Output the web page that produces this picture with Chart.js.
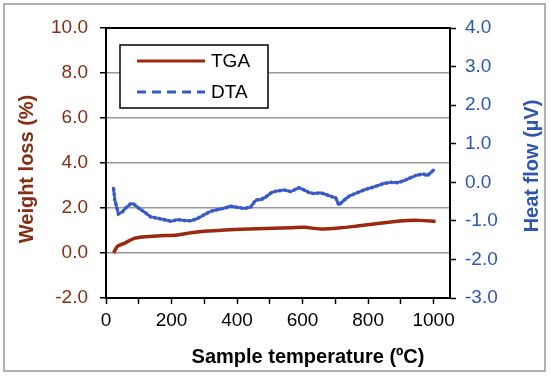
<!DOCTYPE html>
<html>
<head>
<meta charset="utf-8">
<script src="https://cdn.jsdelivr.net/npm/chart.js@4/dist/chart.umd.min.js"></script>
<style>
  body{margin:0;background:#fff;}
  canvas{display:block;}
</style>
</head>
<body>
<canvas id="grafico" width="550" height="377"></canvas>
<script>
// ------------------- DADOS -------------------
const tgaTemp   = [23, 35, 56, 86, 117, 157, 218, 259, 310, 361, 462, 564, 605, 655, 716, 767, 818, 869, 920, 955, 1006];
const tgaWeight = [0.0, 0.3, 0.43, 0.65, 0.72, 0.76, 0.8, 0.9, 0.98, 1.02, 1.08, 1.12, 1.14, 1.07, 1.12, 1.2, 1.29, 1.38, 1.44, 1.45, 1.41];

const dtaTemp = [23, 27, 38, 51, 61, 76, 86, 101, 117, 137, 157, 178, 198, 218, 239, 259, 279, 300, 320, 340,
                 361, 381, 401, 422, 442, 457, 473, 488, 508, 528, 544, 564, 589, 605, 620, 635, 655, 676, 691, 701,
                 711, 727, 742, 767, 793, 818, 844, 869, 889, 909, 930, 950, 970, 981, 991, 1006];
const dtaHeat = [-0.16, -0.46, -0.82, -0.76, -0.66, -0.55, -0.57, -0.68, -0.77, -0.9, -0.93, -0.97, -1.01, -0.97, -0.99, -1.0, -0.94, -0.84, -0.75, -0.71,
                 -0.67, -0.62, -0.65, -0.68, -0.64, -0.46, -0.45, -0.38, -0.25, -0.22, -0.2, -0.24, -0.14, -0.2, -0.27, -0.29, -0.27, -0.33, -0.38, -0.4,
                 -0.59, -0.46, -0.36, -0.27, -0.18, -0.12, -0.04, 0.0, -0.01, 0.04, 0.12, 0.19, 0.21, 0.17, 0.25, 0.36];

// marcas do eixo x (rótulo só nas de 200 em 200)
const xMarcas = [0, 100, 200, 300, 400, 500, 600, 700, 800, 900, 1000];

const xTitulo = "Sample temperature (ºC)";
const yTitulo = "Weight loss (%)";
const y1Titulo = "Heat flow (µV)";

const corTGA = "rgb(155,40,15)";
const corTGAtexto = "rgb(135,45,20)";
const corDTA = "rgb(55,90,200)";
const corDTAtexto = "rgb(45,85,180)";
const fonte = "'Liberation Sans', Arial, sans-serif";

function pares(xs, ys){
  return xs.map((x,i)=>({x:x, y:ys[i]}));
}

// ------------------- PLUGIN: moldura, títulos, legenda -------------------
const extras = {
  id:'extras',
  afterDraw(chart){
    const ctx = chart.ctx;
    const a = chart.chartArea;
    ctx.save();

    // moldura externa
    ctx.strokeStyle = "#999";
    ctx.lineWidth = 1.5;
    ctx.strokeRect(4, 4, 541, 367);

    // caixa do gráfico
    ctx.strokeStyle = "#000";
    ctx.lineWidth = 2;
    ctx.strokeRect(a.left, a.top, a.right - a.left, a.bottom - a.top);

    // títulos
    ctx.font = "bold 20px " + fonte;
    ctx.textAlign = "center";
    ctx.textBaseline = "middle";
    ctx.fillStyle = "#000";
    ctx.fillText(xTitulo, 308, 357);

    ctx.fillStyle = corTGAtexto;
    ctx.save();
    ctx.translate(27, 169);
    ctx.rotate(-Math.PI/2);
    ctx.fillText(yTitulo, 0, 0);
    ctx.restore();

    ctx.fillStyle = corDTAtexto;
    ctx.save();
    ctx.translate(532, 166);
    ctx.rotate(-Math.PI/2);
    ctx.fillText(y1Titulo, 0, 0);
    ctx.restore();

    // legenda
    ctx.fillStyle = "#fff";
    ctx.fillRect(120, 45, 148, 63);
    ctx.strokeStyle = "#000";
    ctx.lineWidth = 1.5;
    ctx.strokeRect(120, 45, 148, 63);

    const itens = chart.data.datasets;
    const ys = [61, 92];
    itens.forEach((ds, i)=>{
      ctx.beginPath();
      ctx.strokeStyle = ds.borderColor;
      ctx.lineWidth = 3;
      ctx.setLineDash(i === 1 ? [9,6] : []);
      ctx.moveTo(137, ys[i]);
      ctx.lineTo(205, ys[i]);
      ctx.stroke();
      ctx.setLineDash([]);
      ctx.fillStyle = "#000";
      ctx.font = "19px " + fonte;
      ctx.textAlign = "left";
      ctx.fillText(ds.label, 211, ys[i] + 1);
    });

    ctx.restore();
  }
};

// ------------------- GRÁFICO -------------------
new Chart(document.getElementById("grafico"), {
  type:'line',
  data:{
    datasets:[
      {
        label:'TGA',
        data:pares(tgaTemp, tgaWeight),
        borderColor:corTGA,
        borderWidth:3.5,
        pointRadius:0,
        tension:0.3,
        yAxisID:'y'
      },
      {
        label:'DTA',
        data:pares(dtaTemp, dtaHeat),
        borderColor:corDTA,
        borderWidth:3.5,
        borderDash:[2,3],
        borderCapStyle:'round',
        pointRadius:0,
        tension:0,
        yAxisID:'y1'
      }
    ]
  },
  options:{
    responsive:false,
    animation:false,
    layout:{ padding:{ top:28, left:0, right:0, bottom:0 } },
    plugins:{ legend:{ display:false }, tooltip:{ enabled:false } },
    scales:{
      x:{
        type:'linear',
        min:0, max:1050,
        afterFit:s=>{ s.height = 79; },
        afterBuildTicks:s=>{ s.ticks = xMarcas.map(v=>({value:v})); },
        ticks:{
          autoSkip:false,
          maxRotation:0,
          padding:5,
          color:'#000',
          font:{ family:fonte, size:19 },
          callback:v=> v % 200 === 0 ? String(v) : ''
        },
        grid:{ drawOnChartArea:false, tickLength:6, tickColor:'#000', tickWidth:1.5 },
        border:{ color:'#000', width:2 }
      },
      y:{
        position:'left',
        min:-2, max:10,
        afterFit:s=>{ s.width = 106; },
        ticks:{
          stepSize:2,
          padding:12,
          color:corTGAtexto,
          font:{ family:fonte, size:19 },
          callback:v=>v.toFixed(1)
        },
        grid:{ color:'#999', lineWidth:1.5, tickLength:6, tickColor:'#000', tickWidth:1.5 },
        border:{ color:'#000', width:2 }
      },
      y1:{
        position:'right',
        min:-3, max:4,
        afterFit:s=>{ s.width = 100; },
        ticks:{
          stepSize:1,
          padding:9,
          color:corDTAtexto,
          font:{ family:fonte, size:19 },
          callback:v=>v.toFixed(1)
        },
        grid:{ drawOnChartArea:false, tickLength:6, tickColor:'#000', tickWidth:1.5 },
        border:{ color:'#000', width:2 }
      }
    }
  },
  plugins:[extras]
});
</script>
</body>
</html>
